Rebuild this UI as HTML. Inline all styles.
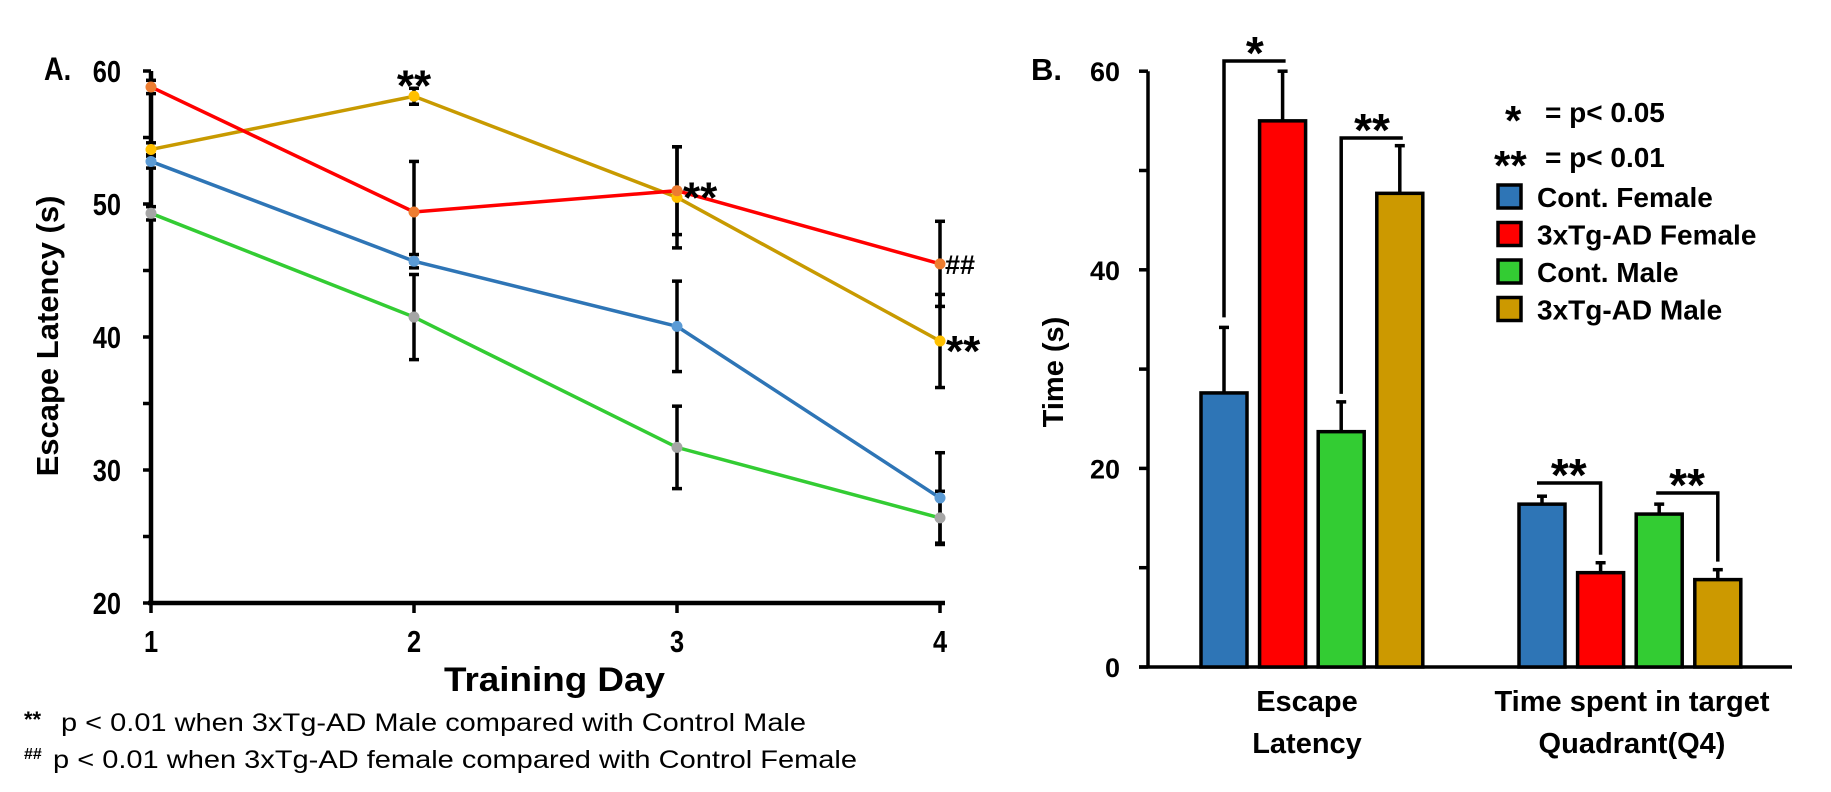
<!DOCTYPE html>
<html><head><meta charset="utf-8"><style>
html,body{margin:0;padding:0;background:#fff;}
svg{display:block;font-family:"Liberation Sans",Arial,sans-serif;}
</style></head><body>
<svg id="c" width="1831" height="792" viewBox="0 0 1831 792" xmlns="http://www.w3.org/2000/svg">
<g id="A"></g>
<g id="B"></g>
</svg>
<script>
// ---- Panel A data ----
const days = [1, 2, 3, 4];
const yTicksA = [20, 30, 40, 50, 60];
const contFemale = [53.2, 45.7, 40.8, 27.9];
const contFemaleErr = [0.5, 0.5, 3.4, 3.4];
const tgFemale = [58.8, 49.4, 51.0, 45.5];
const tgFemaleErr = [0.5, 3.8, 3.3, 3.2];
const contMale = [49.3, 41.5, 31.7, 26.4];
const contMaleErr = [0.5, 3.2, 3.1, 2.0];
const tgMale = [54.1, 58.1, 50.5, 39.7];
const tgMaleErr = [0.5, 0.6, 3.8, 3.5];
// ---- Panel B data ----
const groupsB = ["Escape Latency", "Time spent in target Quadrant(Q4)"];
const yTicksB = [0, 20, 40, 60];
const barContFemale = [27.6, 16.4];
const barContFemaleErr = [6.6, 0.8];
const barTgFemale = [55.0, 9.5];
const barTgFemaleErr = [5.0, 1.0];
const barContMale = [23.7, 15.4];
const barContMaleErr = [3.0, 1.0];
const barTgMale = [47.7, 8.8];
const barTgMaleErr = [4.8, 1.0];

const NS = "http://www.w3.org/2000/svg";
function mk(parent, tag, attrs, text) {
  const e = document.createElementNS(NS, tag);
  for (const k in attrs) e.setAttribute(k, attrs[k]);
  if (text !== undefined) e.textContent = text;
  parent.appendChild(e);
  return e;
}
// ===== Panel A =====
const A = document.getElementById('A');
const xA = d => 151 + (d - 1) * 263;
const yA = v => 603 - (v - 20) * 13.3;
let e;
e = mk(A, 'line', {x1:151, y1:yA(60), x2:151, y2:603, stroke:'#000', 'stroke-width':4.5});


e = mk(A, 'line', {x1:148, y1:603, x2:945, y2:603, stroke:'#000', 'stroke-width':4.5});


for (let v = 20; v <= 60; v += 5) {
  e = mk(A, 'line', {x1:143, y1:yA(v), x2:151, y2:yA(v), stroke:'#000', 'stroke-width':3.5});
  
  
}
yTicksA.forEach(v => {
  e = mk(A, 'text', {transform:`translate(121,${yA(v) + 11}) scale(0.82,1)`, 'text-anchor':'end', 'font-size':31, 'font-weight':'bold'}, v);
  
  
});
days.forEach(d => {
  e = mk(A, 'line', {x1:xA(d), y1:603, x2:xA(d), y2:613, stroke:'#000', 'stroke-width':3.5});
  
  
  e = mk(A, 'text', {transform:`translate(${xA(d)},652) scale(0.82,1)`, 'text-anchor':'middle', 'font-size':31, 'font-weight':'bold'}, d);
  
  
});
e = mk(A, 'text', {transform:'translate(44,80) scale(0.85,1)', 'font-size':32, 'font-weight':'bold'}, 'A.');


e = mk(A, 'text', {x:444, y:691, 'font-size':34, 'font-weight':'bold', textLength:221, lengthAdjust:'spacingAndGlyphs'}, 'Training Day');


e = mk(A, 'text', {x:0, y:0, transform:'translate(58,336) rotate(-90)', 'text-anchor':'middle', 'font-size':31, 'font-weight':'bold'}, 'Escape Latency (s)');



const seriesA = [
  {v:contFemale, err:contFemaleErr, line:'#2E75B6', dot:'#5B9BD5', name:'cont-female'},
  {v:contMale, err:contMaleErr, line:'#33CC33', dot:'#A5A5A5', name:'cont-male'},
  {v:tgMale, err:tgMaleErr, line:'#C89A00', dot:'#FFC000', name:'3xtg-male'},
  {v:tgFemale, err:tgFemaleErr, line:'#FF0000', dot:'#ED7D31', name:'3xtg-female'}
];
seriesA.forEach(s => {
  s.v.forEach((v, i) => {
    const x = xA(days[i]);
    e = mk(A, 'line', {x1:x, y1:yA(v + s.err[i]), x2:x, y2:yA(v - s.err[i]), stroke:'#000', 'stroke-width':3.5});
    
    
    [v + s.err[i], v - s.err[i]].forEach(c => {
      mk(A, 'line', {x1:x - 5, y1:yA(c), x2:x + 5, y2:yA(c), stroke:'#000', 'stroke-width':3.5});
    });
  });
});
seriesA.forEach(s => {
  const pts = s.v.map((v, i) => xA(days[i]) + ',' + yA(v)).join(' ');
  e = mk(A, 'polyline', {points:pts, fill:'none', stroke:s.line, 'stroke-width':3.5});
  
  
  s.v.forEach((v, i) => {
    e = mk(A, 'circle', {cx:xA(days[i]), cy:yA(v), r:5.5, fill:s.dot});
    
    
  });
});
e = mk(A, 'text', {x:xA(2), y:yA(tgMale[1]) + 4, 'text-anchor':'middle', 'font-size':44, 'font-weight':'bold'}, '**');


e = mk(A, 'text', {x:xA(3) + 6, y:yA(tgFemale[2]) + 22, 'font-size':44, 'font-weight':'bold'}, '**');


e = mk(A, 'text', {x:xA(4) + 5, y:yA(tgFemale[3]) + 10, 'font-size':27, 'font-weight':'bold'}, '##');


e = mk(A, 'text', {x:xA(4) + 6, y:yA(tgMale[3]) + 25, 'font-size':44, 'font-weight':'bold'}, '**');


e = mk(A, 'text', {x:24, y:727, 'font-size':22, 'font-weight':'bold'}, '**');


e = mk(A, 'text', {x:61, y:731, 'font-size':25, textLength:745, lengthAdjust:'spacingAndGlyphs'}, 'p < 0.01 when 3xTg-AD Male compared with Control Male');


e = mk(A, 'text', {x:24, y:759, 'font-size':16, 'font-weight':'bold'}, '##');


e = mk(A, 'text', {x:53, y:768, 'font-size':25, textLength:804, lengthAdjust:'spacingAndGlyphs'}, 'p < 0.01 when 3xTg-AD female compared with Control Female');



// ===== Panel B =====
const B = document.getElementById('B');
const yB = v => 667 - v * 9.93;
const groupX = [1201, 1519];
const barW = 46, step = 58.6;
e = mk(B, 'line', {x1:1148, y1:yB(60), x2:1148, y2:667, stroke:'#000', 'stroke-width':3.5});


e = mk(B, 'line', {x1:1139, y1:667, x2:1792, y2:667, stroke:'#000', 'stroke-width':3.5});


for (let v = 0; v <= 60; v += 10) {
  e = mk(B, 'line', {x1:1139, y1:yB(v), x2:1148, y2:yB(v), stroke:'#000', 'stroke-width':3.5});
  
  
}
yTicksB.forEach(v => {
  e = mk(B, 'text', {x:1120, y:yB(v) + 10, 'text-anchor':'end', 'font-size':27, 'font-weight':'bold'}, v);
  
  
});
e = mk(B, 'text', {x:1031, y:80, 'font-size':31, 'font-weight':'bold'}, 'B.');


e = mk(B, 'text', {x:0, y:0, transform:'translate(1063,372) rotate(-90)', 'text-anchor':'middle', 'font-size':29, 'font-weight':'bold'}, 'Time (s)');


e = mk(B, 'text', {x:1307, y:711, 'text-anchor':'middle', 'font-size':29, 'font-weight':'bold'}, 'Escape');


mk(B, 'text', {x:1307, y:753, 'text-anchor':'middle', 'font-size':29, 'font-weight':'bold'}, 'Latency');
e = mk(B, 'text', {x:1632, y:711, 'text-anchor':'middle', 'font-size':29, 'font-weight':'bold'}, 'Time spent in target');


mk(B, 'text', {x:1632, y:753, 'text-anchor':'middle', 'font-size':29, 'font-weight':'bold'}, 'Quadrant(Q4)');

const seriesB = [
  {v:barContFemale, err:barContFemaleErr, c:'#2E75B6', name:'cont-female'},
  {v:barTgFemale, err:barTgFemaleErr, c:'#FF0000', name:'3xtg-female'},
  {v:barContMale, err:barContMaleErr, c:'#33CC33', name:'cont-male'},
  {v:barTgMale, err:barTgMaleErr, c:'#CC9900', name:'3xtg-male'}
];
const cx = (g, k) => groupX[g] + k * step + barW / 2;
seriesB.forEach((s, k) => {
  s.v.forEach((v, g) => {
    const x = groupX[g] + k * step;
    e = mk(B, 'line', {x1:x + barW / 2, y1:yB(v), x2:x + barW / 2, y2:yB(v + s.err[g]), stroke:'#000', 'stroke-width':3.5});
    
    
    mk(B, 'line', {x1:x + barW / 2 - 5, y1:yB(v + s.err[g]), x2:x + barW / 2 + 5, y2:yB(v + s.err[g]), stroke:'#000', 'stroke-width':3.5});
    e = mk(B, 'rect', {x:x, y:yB(v), width:barW, height:667 - yB(v), fill:s.c, stroke:'#000', 'stroke-width':3.5});
    
    
  });
});
function bracket(x1, x2, yTop, yL, yR, label) {
  const g = mk(B, 'g', {});
  
  
  mk(g, 'polyline', {points:`${x1},${yL} ${x1},${yTop} ${x2},${yTop} ${x2},${yR}`, fill:'none', stroke:'#000', 'stroke-width':3.5});
  mk(g, 'text', {x:(x1 + x2) / 2, y:yTop + 8, 'text-anchor':'middle', 'font-size':46, 'font-weight':'bold'}, label);
}
bracket(cx(0,0), cx(0,1) + 3, 61, yB(barContFemale[0] + barContFemaleErr[0]) - 10, 61, '*');
bracket(cx(0,2), cx(0,3) + 3, 138, yB(barContMale[0] + barContMaleErr[0]) - 8, 138, '**');
bracket(cx(1,0) - 5, cx(1,1), 483, 483, yB(barTgFemale[1] + barTgFemaleErr[1]) - 8, '**');
bracket(cx(1,2) - 3, cx(1,3), 493, 493, yB(barTgMale[1] + barTgMaleErr[1]) - 8, '**');

// legend
e = mk(B, 'text', {x:1505, y:135, 'font-size':42, 'font-weight':'bold'}, '*');


e = mk(B, 'text', {x:1545, y:122, 'font-size':28, 'font-weight':'bold'}, '= p< 0.05');


e = mk(B, 'text', {x:1494, y:180, 'font-size':42, 'font-weight':'bold'}, '**');


e = mk(B, 'text', {x:1545, y:167, 'font-size':28, 'font-weight':'bold'}, '= p< 0.01');


const legendLabels = ['Cont. Female', '3xTg-AD Female', 'Cont. Male', '3xTg-AD Male'];
seriesB.forEach((s, k) => {
  const y = 185 + k * 37.5;
  const g = mk(B, 'g', {});
  
  
  mk(g, 'rect', {x:1498, y:y, width:23, height:23, fill:s.c, stroke:'#000', 'stroke-width':3.5});
  mk(g, 'text', {x:1537, y:y + 22, 'font-size':28, 'font-weight':'bold'}, legendLabels[k]);
});
</script>
</body></html>
